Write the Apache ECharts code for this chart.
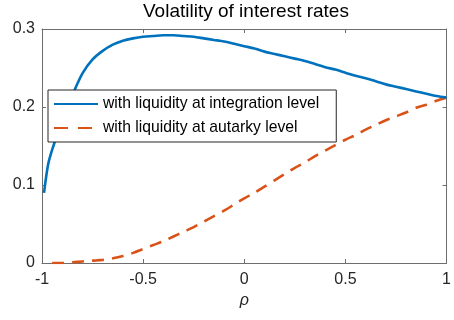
<!DOCTYPE html>
<html>
<head>
<meta charset="utf-8">
<script src="https://cdn.jsdelivr.net/npm/echarts@6/dist/echarts.min.js"></script>
<style>
  html, body { margin: 0; padding: 0; background: #fff; }
  #chart { width: 454px; height: 320px; }
</style>
</head>
<body>
<div id="chart"></div>
<script>
// Correlation grid (rho) and volatility of interest rates for the two liquidity cases
const rhoIntegration = [-0.99, -0.97, -0.95, -0.92, -0.90, -0.875, -0.85, -0.80, -0.75, -0.70, -0.65, -0.60,
  -0.55, -0.50, -0.45, -0.40, -0.35, -0.30, -0.25, -0.20, -0.15, -0.10, -0.05, 0.00, 0.05, 0.10, 0.15,
  0.20, 0.25, 0.30, 0.35, 0.40, 0.45, 0.50, 0.55, 0.60, 0.65, 0.70, 0.75, 0.80, 0.85, 0.90, 0.95, 1.00];
const volIntegration = [0.090, 0.126, 0.145, 0.168, 0.182, 0.198, 0.215, 0.243, 0.261, 0.272, 0.280, 0.285,
  0.288, 0.290, 0.291, 0.292, 0.292, 0.291, 0.290, 0.288, 0.286, 0.284, 0.281, 0.278, 0.275, 0.271, 0.268,
  0.265, 0.262, 0.259, 0.255, 0.251, 0.248, 0.244, 0.240, 0.237, 0.233, 0.229, 0.226, 0.223, 0.220, 0.217, 0.214, 0.212];

const rhoAutarky = [-0.95, -0.90, -0.85, -0.80, -0.75, -0.70, -0.65, -0.60, -0.55, -0.50, -0.45, -0.40,
  -0.35, -0.30, -0.25, -0.20, -0.15, -0.10, -0.05, 0.00, 0.05, 0.10, 0.15, 0.20, 0.25, 0.30, 0.35, 0.40,
  0.45, 0.50, 0.55, 0.60, 0.65, 0.70, 0.75, 0.80, 0.85, 0.90, 0.95, 1.00];
const volAutarky = [0.000, 0.000, 0.001, 0.002, 0.003, 0.004, 0.006, 0.009, 0.013, 0.018, 0.023, 0.028,
  0.034, 0.040, 0.046, 0.053, 0.060, 0.067, 0.075, 0.083, 0.090, 0.098, 0.106, 0.114, 0.122, 0.129, 0.137, 0.144,
  0.151, 0.158, 0.164, 0.171, 0.177, 0.183, 0.188, 0.193, 0.199, 0.203, 0.208, 0.212];

const seriesNames = ['with liquidity at integration level', 'with liquidity at autarky level'];
const xTicks = [-1, -0.5, 0, 0.5, 1];
const yTicks = [0, 0.1, 0.2, 0.3];

const FONT = '"Liberation Sans", Arial, Helvetica, sans-serif';
const AXIS_COLOR = '#6e6e6e';
const TEXT_COLOR = '#262626';
const BLUE = '#0072BD';
const ORANGE = '#D95319';

const zip = (xs, ys) => xs.map((x, i) => [x, ys[i]]);

function xAxisDef(pos, showLabels) {
  return {
    type: 'value', position: pos,
    min: xTicks[0], max: xTicks[xTicks.length - 1], interval: 0.5,
    name: showLabels ? 'ρ' : '', nameLocation: 'middle', nameGap: 30,
    nameTextStyle: { fontFamily: FONT, fontSize: 16, fontStyle: 'italic', color: TEXT_COLOR },
    axisLine: { show: true, onZero: false, lineStyle: { color: AXIS_COLOR, width: 1 } },
    axisTick: { show: true, inside: true, length: 4, lineStyle: { color: AXIS_COLOR } },
    axisLabel: { show: showLabels, margin: 9, fontFamily: FONT, fontSize: 16, color: TEXT_COLOR },
    splitLine: { show: false }
  };
}
function yAxisDef(pos, showLabels) {
  return {
    type: 'value', position: pos,
    min: yTicks[0], max: yTicks[yTicks.length - 1], interval: 0.1,
    axisLine: { show: true, onZero: false, lineStyle: { color: AXIS_COLOR, width: 1 } },
    axisTick: { show: true, inside: true, length: 4, lineStyle: { color: AXIS_COLOR } },
    axisLabel: { show: showLabels, margin: 7, fontFamily: FONT, fontSize: 16, color: TEXT_COLOR },
    splitLine: { show: false }
  };
}

const chart = echarts.init(document.getElementById('chart'), null, { renderer: 'canvas' });
chart.setOption({
  animation: false,
  backgroundColor: '#fff',
  title: {
    text: 'Volatility of interest rates',
    left: 143, top: 2, padding: 0,
    textStyle: { fontFamily: FONT, fontSize: 19, fontWeight: 'normal', color: '#000' }
  },
  grid: { left: 42, right: 3, top: 29, bottom: 57, containLabel: false },
  xAxis: [xAxisDef('bottom', true), xAxisDef('top', false)],
  yAxis: [yAxisDef('left', true), yAxisDef('right', false)],
  legend: {
    orient: 'vertical', left: 48, top: 90,
    padding: [6, 17, 6, 5],
    itemWidth: 44, itemHeight: 14, itemGap: 8,
    backgroundColor: '#fff', borderColor: '#262626', borderWidth: 1,
    itemStyle: { opacity: 0 },
    textStyle: { fontFamily: FONT, fontSize: 15.7, color: '#000' },
    data: [
      { name: seriesNames[0] },
      { name: seriesNames[1], lineStyle: { type: [14, 10] } }
    ]
  },
  series: [
    {
      name: seriesNames[0], type: 'line', xAxisIndex: 0, yAxisIndex: 0,
      data: zip(rhoIntegration, volIntegration),
      showSymbol: false, symbol: 'none', smooth: 0.3,
      lineStyle: { color: BLUE, width: 2.6 }, itemStyle: { color: BLUE }, z: 3
    },
    {
      name: seriesNames[1], type: 'line', xAxisIndex: 0, yAxisIndex: 0,
      data: zip(rhoAutarky, volAutarky),
      showSymbol: false, symbol: 'none', smooth: 0.3,
      lineStyle: { color: ORANGE, width: 2.6, type: [12, 8] }, itemStyle: { color: ORANGE }, z: 2
    }
  ]
});
</script>
</body>
</html>
